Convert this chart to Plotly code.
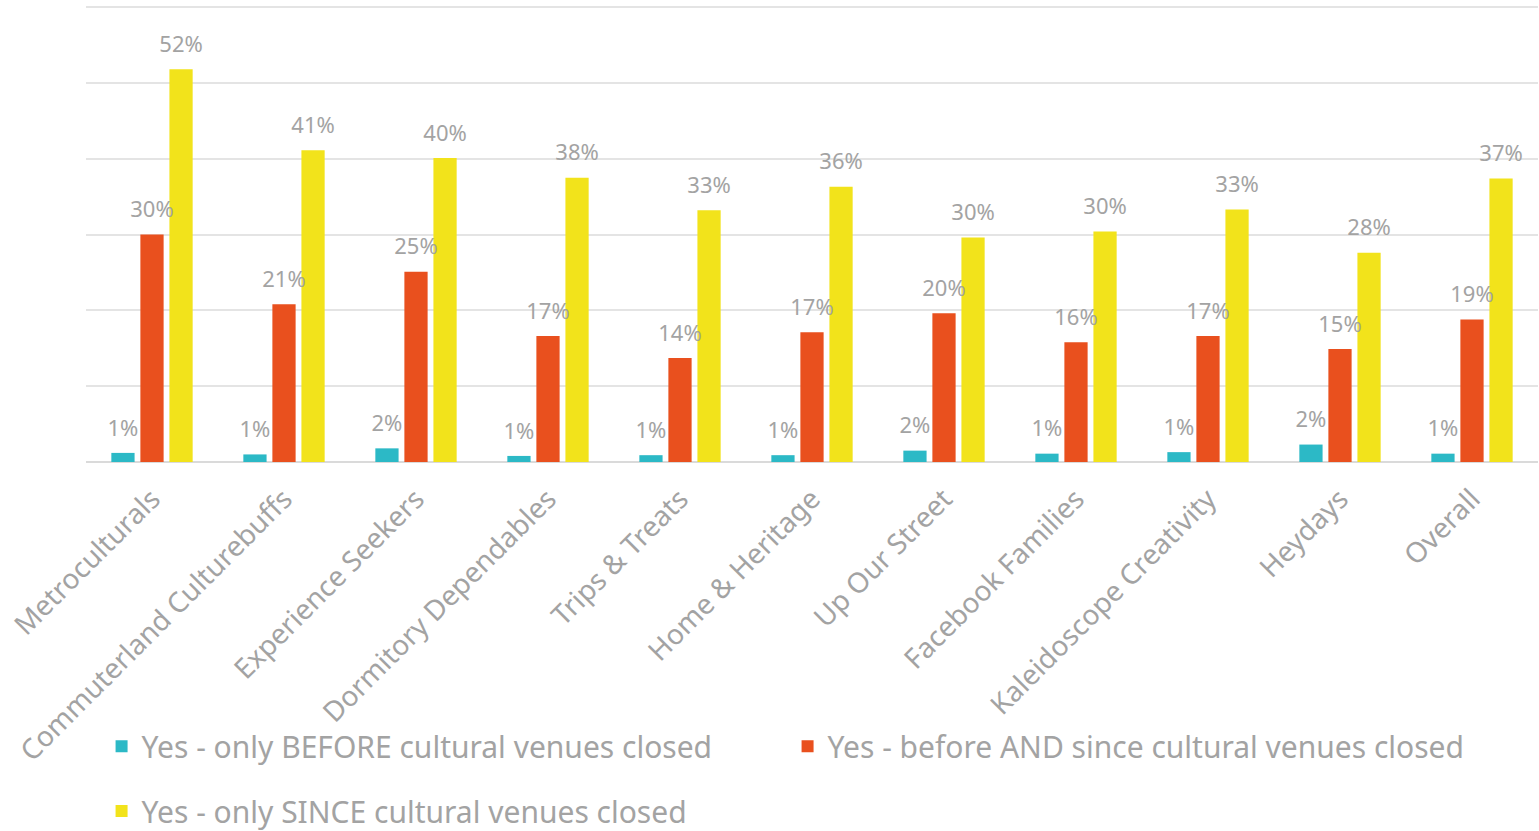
import plotly.graph_objects as go

categories = ["Metroculturals", "Commuterland Culturebuffs", "Experience Seekers",
              "Dormitory Dependables", "Trips & Treats", "Home & Heritage",
              "Up Our Street", "Facebook Families", "Kaleidoscope Creativity",
              "Heydays", "Overall"]

before_only = [0.012, 0.010, 0.018, 0.008, 0.009, 0.009, 0.015, 0.011, 0.013, 0.023, 0.011]
before_and_since = [0.300, 0.208, 0.251, 0.166, 0.137, 0.171, 0.196, 0.158, 0.166, 0.149, 0.188]
since_only = [0.518, 0.411, 0.401, 0.375, 0.332, 0.363, 0.296, 0.304, 0.333, 0.276, 0.374]

series_names = ["Yes - only BEFORE cultural venues closed",
                "Yes - before AND since cultural venues closed",
                "Yes - only SINCE cultural venues closed"]
series_colors = ["#2CB9C6", "#E9501E", "#F2E31B"]
series_values = [before_only, before_and_since, since_only]
series_legend = ["legend", "legend", "legend2"]

GREY = "#A3A3A3"
FONT = "Noto Sans"
LABEL_LIFT = 0.011  # visual gap between bar top and its value label

fig = go.Figure()
for i, (name, vals, col, lg) in enumerate(zip(series_names, series_values, series_colors, series_legend)):
    fig.add_trace(go.Bar(
        x=categories, y=vals, name=name, offsetgroup=f"g{i}",
        marker=dict(color=col, line=dict(width=0)),
        cliponaxis=False, legend=lg, hoverinfo="skip",
    ))
# value labels drawn on top of all bars
for i, vals in enumerate(series_values):
    fig.add_trace(go.Bar(
        x=categories, y=vals, base=LABEL_LIFT, offsetgroup=f"g{i}", showlegend=False,
        marker=dict(color="rgba(0,0,0,0)", line=dict(width=0)),
        text=[f"{v:.0%}" for v in vals], texttemplate="%{text}",
        textposition="outside", constraintext="none",
        textfont=dict(color=GREY, size=22, family=FONT),
        cliponaxis=False, hoverinfo="skip",
    ))

plot_top_px, plot_bottom_px, grid_top_px = 5, 462, 7
y_max = 0.6 * (plot_bottom_px - plot_top_px) / (plot_bottom_px - grid_top_px)

fig.update_layout(
    width=1539, height=831,
    margin=dict(l=86, r=1, t=plot_top_px, b=831 - plot_bottom_px, autoexpand=False),
    paper_bgcolor="white", plot_bgcolor="white",
    barmode="group", bargap=0.34, bargroupgap=0.2,
    font=dict(family=FONT, color=GREY),
    legend=dict(orientation="h", xref="container", yref="container",
                x=0.066, y=0.102, xanchor="left", yanchor="middle",
                entrywidth=641, entrywidthmode="pixels",
                font=dict(size=30, color=GREY, family=FONT),
                bgcolor="rgba(0,0,0,0)"),
    legend2=dict(orientation="h", xref="container", yref="container",
                 x=0.066, y=0.024, xanchor="left", yanchor="middle",
                 font=dict(size=30, color=GREY, family=FONT),
                 bgcolor="rgba(0,0,0,0)"),
    showlegend=True,
)
fig.update_xaxes(tickangle=-45, tickfont=dict(size=28, color=GREY, family=FONT),
                 showgrid=False, showline=False, ticks="", ticklabelstandoff=14,
                 automargin=False)
fig.update_yaxes(range=[0, y_max], tickvals=[0, 0.1, 0.2, 0.3, 0.4, 0.5, 0.6],
                 showticklabels=False, automargin=False,
                 showgrid=True, gridcolor="#E4E4E4", gridwidth=2,
                 zeroline=True, zerolinecolor="#DADADA", zerolinewidth=2)

fig.write_html("out.html", config={"displayModeBar": False},
               post_script="document.body.style.margin='0px';")
